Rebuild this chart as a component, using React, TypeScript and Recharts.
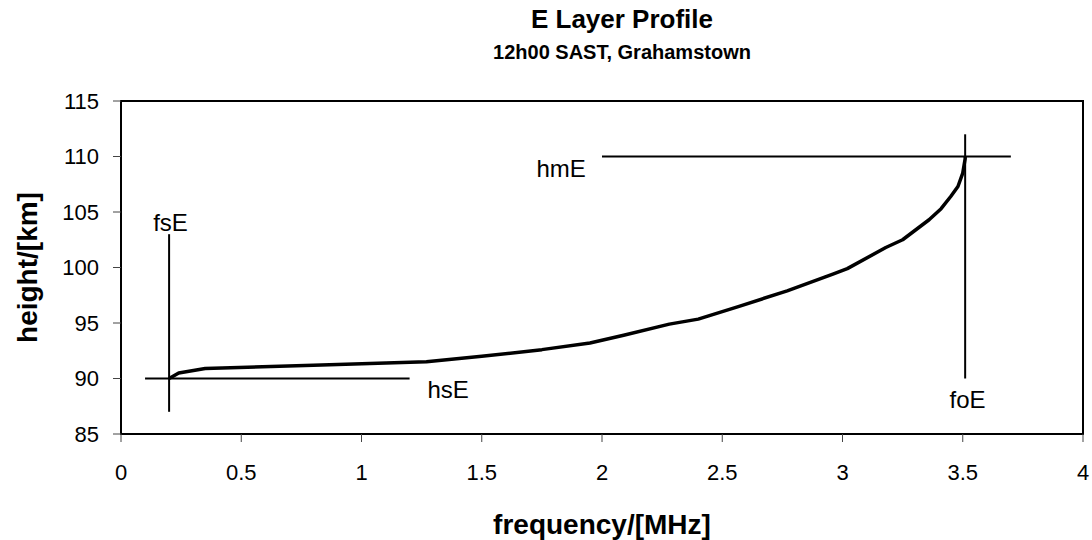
import React from 'react';
import {
  ComposedChart,
  Line,
  XAxis,
  YAxis,
  ReferenceLine,
  ReferenceDot,
  ReferenceArea,
  Label,
} from 'recharts';

// E layer true-height profile: plasma frequency (MHz) against height (km)
const FREQ_MHZ = [
  0.2, 0.24, 0.35, 0.8, 1.27, 1.5, 1.75, 1.95, 2.09, 2.28, 2.4, 2.57, 2.77,
  2.96, 3.02, 3.18, 3.25, 3.36, 3.41, 3.45, 3.48, 3.5, 3.51, 3.51,
];
const HEIGHT_KM = [
  90.0, 90.5, 90.9, 91.2, 91.5, 92.0, 92.6, 93.2, 93.9, 94.9, 95.35, 96.5,
  97.9, 99.4, 99.9, 101.8, 102.5, 104.3, 105.3, 106.4, 107.3, 108.5, 109.8,
  110.0,
];

const X_TICKS = [0, 0.5, 1, 1.5, 2, 2.5, 3, 3.5, 4];
const Y_TICKS = [85, 90, 95, 100, 105, 110, 115];

// Marker lines for the characteristic parameters
const MARKER_NAMES = ['fsE', 'hsE', 'hmE', 'foE'];
const MARKER_FROM_F = [0.2, 0.1, 2.0, 3.51];
const MARKER_FROM_H = [87, 90, 110, 90];
const MARKER_TO_F = [0.2, 1.2, 3.7, 3.51];
const MARKER_TO_H = [103, 90, 110, 112];

// Where each marker's name is written
const LABEL_F = [0.206, 1.36, 1.83, 3.52];
const LABEL_H = [104.1, 89.05, 108.96, 88.1];

const profile = FREQ_MHZ.map((f, i) => ({ f, h: HEIGHT_KM[i] }));

const FONT = 'Liberation Sans, Arial, Helvetica, sans-serif';

export default function App() {
  return (
    <div
      style={{
        position: 'absolute',
        left: 0,
        top: 0,
        width: 1092,
        height: 540,
        background: '#fff',
        fontFamily: FONT,
      }}
    >
      <div
        style={{
          position: 'absolute',
          left: 0,
          width: 1092,
          top: 3,
          paddingLeft: 152,
          boxSizing: 'border-box',
          textAlign: 'center',
          fontWeight: 'bold',
          fontSize: 26,
          lineHeight: '32px',
        }}
      >
        E Layer Profile
      </div>
      <div
        style={{
          position: 'absolute',
          left: 0,
          width: 1092,
          top: 39,
          paddingLeft: 152,
          boxSizing: 'border-box',
          textAlign: 'center',
          fontWeight: 'bold',
          fontSize: 20,
          lineHeight: '26px',
        }}
      >
        12h00 SAST, Grahamstown
      </div>
      <ComposedChart
        width={1092}
        height={540}
        data={profile}
        margin={{ top: 101, right: 9, bottom: 46, left: 51 }}
        style={{ fontFamily: FONT }}
      >
        <XAxis
          dataKey="f"
          type="number"
          domain={[0, 4]}
          ticks={X_TICKS}
          height={60}
          tickSize={8}
          tickMargin={22}
          axisLine={{ stroke: '#000', strokeWidth: 2 }}
          tickLine={{ stroke: '#444', strokeWidth: 1 }}
          tick={{ fill: '#000', fontSize: 22 }}
          interval={0}
        >
          <Label
            value="frequency/[MHz]"
            position="insideBottom"
            offset={-40}
            style={{ fontWeight: 'bold', fontSize: 28, fill: '#000' }}
          />
        </XAxis>
        <YAxis
          type="number"
          domain={[85, 115]}
          ticks={Y_TICKS}
          width={70}
          tickSize={8}
          tickMargin={14}
          axisLine={{ stroke: '#000', strokeWidth: 2 }}
          tickLine={{ stroke: '#444', strokeWidth: 1 }}
          tick={{ fill: '#000', fontSize: 22 }}
          interval={0}
        >
          <Label
            value="height/[km]"
            angle={-90}
            position="insideLeft"
            offset={-24}
            style={{ fontWeight: 'bold', fontSize: 28, fill: '#000', textAnchor: 'middle' }}
          />
        </YAxis>
        <ReferenceArea
          x1={0}
          x2={4}
          y1={85}
          y2={115}
          fill="none"
          stroke="#000"
          strokeWidth={2}
          fillOpacity={0}
        />
        {MARKER_NAMES.map((name, i) => (
          <ReferenceLine
            key={name + '-line'}
            segment={[
              { x: MARKER_FROM_F[i], y: MARKER_FROM_H[i] },
              { x: MARKER_TO_F[i], y: MARKER_TO_H[i] },
            ]}
            stroke="#000"
            strokeWidth={2}
            ifOverflow="visible"
          />
        ))}
        {MARKER_NAMES.map((name, i) => (
          <ReferenceDot
            key={name + '-label'}
            x={LABEL_F[i]}
            y={LABEL_H[i]}
            r={0}
            fill="none"
            stroke="none"
            ifOverflow="visible"
            label={{ value: name, position: 'center', fontSize: 24, fill: '#000' }}
          />
        ))}
        <Line
          dataKey="h"
          type="linear"
          stroke="#000"
          strokeWidth={3.5}
          dot={false}
          isAnimationActive={false}
          strokeLinejoin="round"
        />
      </ComposedChart>
    </div>
  );
}
